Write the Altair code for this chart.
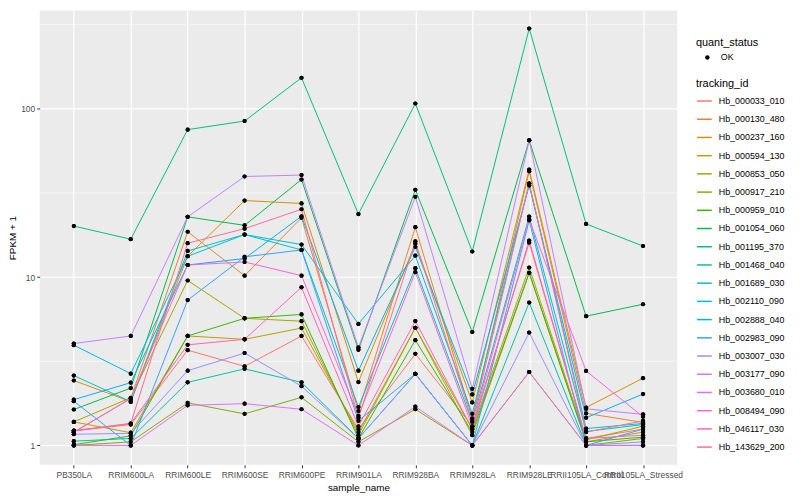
import altair as alt
import pandas as pd

samples = ["PB350LA", "RRIM600LA", "RRIM600LE", "RRIM600SE", "RRIM600PE", "RRIM901LA",
           "RRIM928BA", "RRIM928LA", "RRIM928LE", "RRII105LA_Control", "RRII105LA_Stressed"]

tracking_ids = ["Hb_000033_010", "Hb_000130_480", "Hb_000237_160", "Hb_000594_130", "Hb_000853_050",
                "Hb_000917_210", "Hb_000959_010", "Hb_001054_060", "Hb_001195_370", "Hb_001468_040",
                "Hb_001689_030", "Hb_002110_090", "Hb_002888_040", "Hb_002983_090", "Hb_003007_030",
                "Hb_003177_090", "Hb_003680_010", "Hb_008494_090", "Hb_046117_030", "Hb_143629_200"]

hb_000033_010 = [1.22, 1.33, 3.68, 2.95, 4.47, 1.25, 3.5, 1.3, 16.0, 1.1, 1.25]
hb_000130_480 = [1.2, 1.9, 18.6, 10.2, 22.5, 1.6, 19.8, 1.45, 42.5, 1.55, 1.37]
hb_000237_160 = [2.43, 1.82, 13.3, 28.5, 27.4, 2.38, 15.8, 1.8, 43.6, 1.68, 2.51]
hb_000594_130 = [1.38, 1.19, 4.47, 4.27, 4.98, 1.2, 5.0, 1.15, 10.6, 1.05, 1.2]
hb_000853_050 = [1.38, 1.92, 9.55, 5.69, 5.47, 1.15, 5.0, 1.25, 11.4, 1.08, 1.3]
hb_000917_210 = [1.0, 1.05, 1.79, 1.54, 1.93, 1.05, 1.64, 1.0, 2.73, 1.0, 1.1]
hb_000959_010 = [1.01, 1.14, 4.47, 5.69, 6.0, 1.1, 4.22, 1.2, 10.6, 1.05, 1.12]
hb_001054_060 = [1.635, 2.19, 22.8, 20.3, 38.0, 3.7, 33.0, 4.72, 65.0, 5.86, 6.9]
hb_001195_370 = [20.1, 16.8, 75.2, 84.6, 152.8, 23.7, 107.5, 14.2, 299.6, 20.7, 15.3]
hb_001468_040 = [1.06, 1.1, 2.37, 2.85, 2.37, 1.1, 2.66, 1.0, 7.06, 1.0, 1.0]
hb_001689_030 = [2.6, 1.82, 14.3, 17.9, 14.5, 1.69, 11.3, 1.38, 22.9, 1.21, 1.33]
hb_002110_090 = [3.94, 2.67, 13.3, 17.9, 15.6, 5.27, 13.4, 1.54, 36.0, 1.26, 1.35]
hb_002888_040 = [1.87, 2.36, 11.8, 12.9, 23.0, 2.78, 15.1, 2.01, 35.0, 1.46, 2.02]
hb_002983_090 = [1.83, 1.0, 7.3, 13.2, 14.5, 1.4, 2.66, 1.0, 21.7, 1.0, 1.25]
hb_003007_030 = [1.165, 1.18, 2.78, 3.54, 2.25, 1.1, 2.66, 1.0, 4.68, 1.0, 1.05]
hb_003177_090 = [4.03, 4.47, 22.8, 39.6, 40.4, 3.82, 30.0, 2.17, 65.0, 1.65, 1.53]
hb_003680_010 = [1.0, 1.0, 1.73, 1.77, 1.64, 1.0, 1.70, 1.0, 2.73, 1.0, 1.0]
hb_008494_090 = [1.197, 1.9, 11.8, 12.3, 10.2, 1.5, 10.7, 1.3, 22.0, 2.77, 1.48]
hb_046117_030 = [1.22, 1.35, 3.96, 4.27, 8.7, 1.3, 5.48, 1.25, 16.5, 1.1, 1.15]
hb_143629_200 = [1.225, 1.35, 15.9, 19.4, 25.3, 1.46, 16.3, 1.4, 36.0, 1.2, 1.4]

series = [hb_000033_010, hb_000130_480, hb_000237_160, hb_000594_130, hb_000853_050,
          hb_000917_210, hb_000959_010, hb_001054_060, hb_001195_370, hb_001468_040,
          hb_001689_030, hb_002110_090, hb_002888_040, hb_002983_090, hb_003007_030,
          hb_003177_090, hb_003680_010, hb_008494_090, hb_046117_030, hb_143629_200]

palette = ["#F8766D", "#EA8331", "#D89000", "#C09B00", "#A3A500", "#7CAE00", "#39B600",
           "#00BB4E", "#00BF7D", "#00C1A3", "#00BFC4", "#00BAE0", "#00B0F6", "#35A2FF",
           "#9590FF", "#C77CFF", "#E76BF3", "#FA62DB", "#FF62BC", "#FF6C91"]

minor_grid = [3.1623, 31.623, 316.23]

rows = []
for tid, vals in zip(tracking_ids, series):
    for s, v in zip(samples, vals):
        rows.append({"tracking_id": tid, "sample_name": s, "value": v, "quant_status": "OK"})
df = pd.DataFrame(rows)
grid_df = pd.DataFrame({"g": minor_grid})

FONT = "Liberation Sans"
ydomain = [0.767, 384]
xscale = alt.Scale(type="point", padding=0.6)
yscale = alt.Scale(type="log", domain=ydomain, nice=False)

x_axis = alt.Axis(labelAngle=0, labelAlign="center", labelOverlap=False, labelFontSize=8.5,
                  labelColor="#4D4D4D", titleFontSize=10, titleFontWeight="normal", titleColor="black",
                  tickColor="#333333", tickSize=3, labelPadding=3, titlePadding=3,
                  domain=False, grid=True, gridColor="white", gridWidth=1.2,
                  labelFont=FONT, titleFont=FONT)
y_axis = alt.Axis(values=[1, 10, 100], format="d", labelFontSize=8.5, labelColor="#4D4D4D",
                  titleFontSize=10, titleFontWeight="normal", titleColor="black",
                  tickColor="#333333", tickSize=3, labelPadding=2, titlePadding=3,
                  domain=False, grid=True, gridColor="white", gridWidth=1.2,
                  labelFont=FONT, titleFont=FONT)

x_enc = alt.X("sample_name:N", sort=samples, title="sample_name", scale=xscale, axis=x_axis)
y_enc = alt.Y("value:Q", title="FPKM + 1", scale=yscale, axis=y_axis)

minor = alt.Chart(grid_df).mark_rule(color="white", strokeWidth=0.6).encode(
    y=alt.Y("g:Q", scale=yscale, axis=y_axis, title="FPKM + 1")
)

status_legend_pts = alt.Chart(df).mark_point(filled=True, size=18, opacity=1).encode(
    x=x_enc, y=y_enc,
    color=alt.Color("quant_status:N", scale=alt.Scale(domain=["OK"], range=["black"]),
                    legend=alt.Legend(title="quant_status", orient="none", legendX=663, legendY=27,
                                      symbolType="circle", symbolSize=20, symbolOffset=7,
                                      labelOffset=9,
                                      labelFontSize=9, titleFontSize=11, titleFontWeight="normal",
                                      labelFont=FONT, titleFont=FONT, titlePadding=5)),
)

lines = alt.Chart(df).mark_line(strokeWidth=1).encode(
    x=x_enc, y=y_enc,
    stroke=alt.Stroke("tracking_id:N", scale=alt.Scale(domain=tracking_ids, range=palette),
                      legend=alt.Legend(title="tracking_id", orient="none", legendX=663, legendY=68,
                                        symbolType="stroke", symbolStrokeWidth=1.5,
                                        symbolSize=220, rowPadding=4.4, labelOffset=6,
                                        labelFontSize=9,
                                        titleFontSize=11, titleFontWeight="normal",
                                        labelFont=FONT, titleFont=FONT, titlePadding=4)),
    detail="tracking_id:N",
)

points = alt.Chart(df).mark_point(filled=True, size=18, opacity=1, color="black").encode(
    x=x_enc, y=y_enc,
)

chart = alt.layer(minor, status_legend_pts, lines, points).properties(
    width=644, height=459,
    autosize=alt.AutoSizeParams(type="none"),
    padding={"left": 32, "top": 0, "right": 116, "bottom": 26},
).configure(font=FONT).configure_view(fill="#EBEBEB", strokeWidth=0)

chart.save("out.html", embed_options={"renderer": "svg", "actions": False})
